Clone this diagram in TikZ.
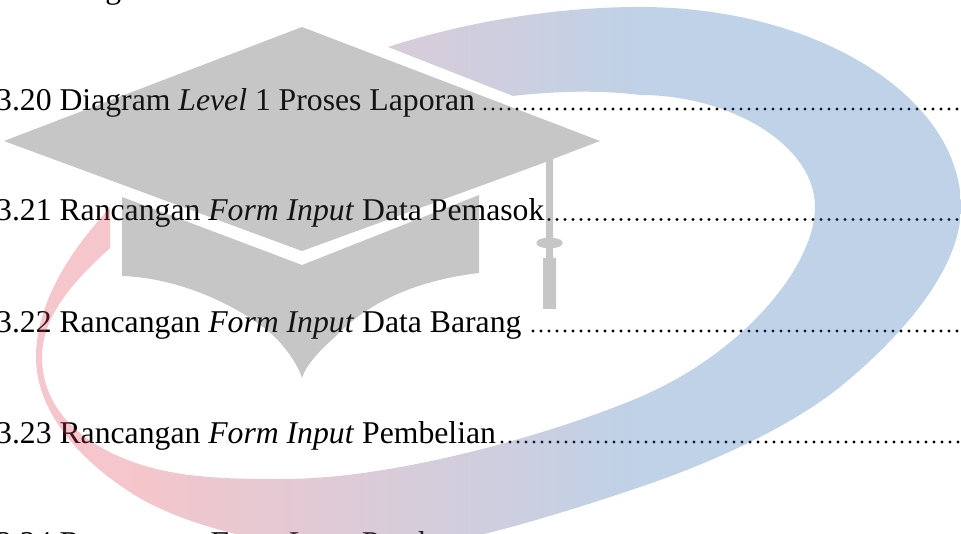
\documentclass[tikz,border=0pt]{standalone}
\usepackage{fontspec}
\setmainfont{Liberation Serif}
\definecolor{swA}{RGB}{221,65,82}
\definecolor{swB}{RGB}{42,105,175}
\definecolor{capgray}{RGB}{65,65,65}
\pgfdeclarehorizontalshading{swooshfade}{100bp}{
  color(0bp)=(swA); color(31.5bp)=(swA); color(57bp)=(swB); color(100bp)=(swB)}
\tikzset{
  tocline/.style={anchor=base west,inner sep=0pt,font=\fontsize{31.7}{34}\selectfont},
  capfill/.style={fill=capgray,opacity=.3},
}
\begin{document}
\begin{tikzpicture}[x=1pt,y=-1pt]
\useasboundingbox (0,0) rectangle (961,534);
% text
\node[tocline] (l19) at (-4,-1) {3.19 Diagram};
\node[tocline] (l20) at (-4,110.5) {3.20 Diagram \textit{Level} 1 Proses Laporan};
\node[tocline] (l21) at (-4,220.5) {3.21 Rancangan \textit{Form Input} Data Pemasok};
\node[tocline] (l22) at (-4,332.5) {3.22 Rancangan \textit{Form Input} Data Barang};
\node[tocline] (l23) at (-4,443) {3.23 Rancangan \textit{Form Input} Pembelian};
\node[tocline] (l24) at (-4,553.5) {3.24 Rancangan \textit{Form Input} Pembayaran};
% leader dots
\foreach \yy/\xs in {109/485,219.5/549,331/533,442/502}{
  \foreach \k in {0,...,60}{
    \pgfmathsetmacro{\xx}{\xs+\k*8}
    \fill (\xx,\yy) circle (1.6);
  }
}
% swoosh
\begin{scope}[opacity=.3]
\clip (388,47) .. controls (465,22) and (555,7) .. (640,7)
  .. controls (817,7) and (961,97) .. (961,207)
  .. controls (961,270) and (900,338) .. (840,387)
  .. controls (785,431) and (700,467) .. (640,487)
  .. controls (590,504) and (530,523) .. (480,535)
  .. controls (440,544) and (395,548) .. (350,548)
  .. controls (270,548) and (180,524) .. (133,494)
  .. controls (85,464) and (36,415) .. (36,357)
  .. controls (36,300) and (75,245) .. (110,208)
  -- (110,248)
  .. controls (75,280) and (42,315) .. (42,357)
  .. controls (42,408) and (80,443) .. (133,462)
  .. controls (180,479) and (235,479) .. (283,479)
  .. controls (400,479) and (560,431) .. (640,397)
  .. controls (745,352) and (815,265) .. (815,207)
  .. controls (815,145) and (730,95) .. (640,95)
  .. controls (600,90) and (555,91) .. (513,96)
  -- cycle;
\shade[shading=swooshfade] (0,-10) rectangle (1000,560);
\end{scope}
% cap
\fill[capfill]
  (302,27) -- (600,141) -- (553,159) -- (553,238)
  .. controls (560,238.5) and (562.5,240.5) .. (562.5,243)
  .. controls (562.5,245.5) and (560,247.5) .. (553,248) -- (553,258) -- (556,258)
  -- (556,309) -- (543,309) -- (543,258) -- (546,258) -- (546,248)
  .. controls (539,247.5) and (536.5,245.5) .. (536.5,243)
  .. controls (536.5,240.5) and (539,238.5) .. (546,238)
  -- (546,162) -- (302,251) -- (4,141) -- cycle
  (122,197) -- (302,265) -- (479,195) -- (479,273)
  .. controls (420,280) and (370,300) .. (335,337)
  .. controls (320,350) and (306,365) .. (302,378)
  .. controls (298,365) and (285,345) .. (267,330)
  .. controls (235,305) and (180,278) .. (122,276) -- cycle;
\end{tikzpicture}
\end{document}
